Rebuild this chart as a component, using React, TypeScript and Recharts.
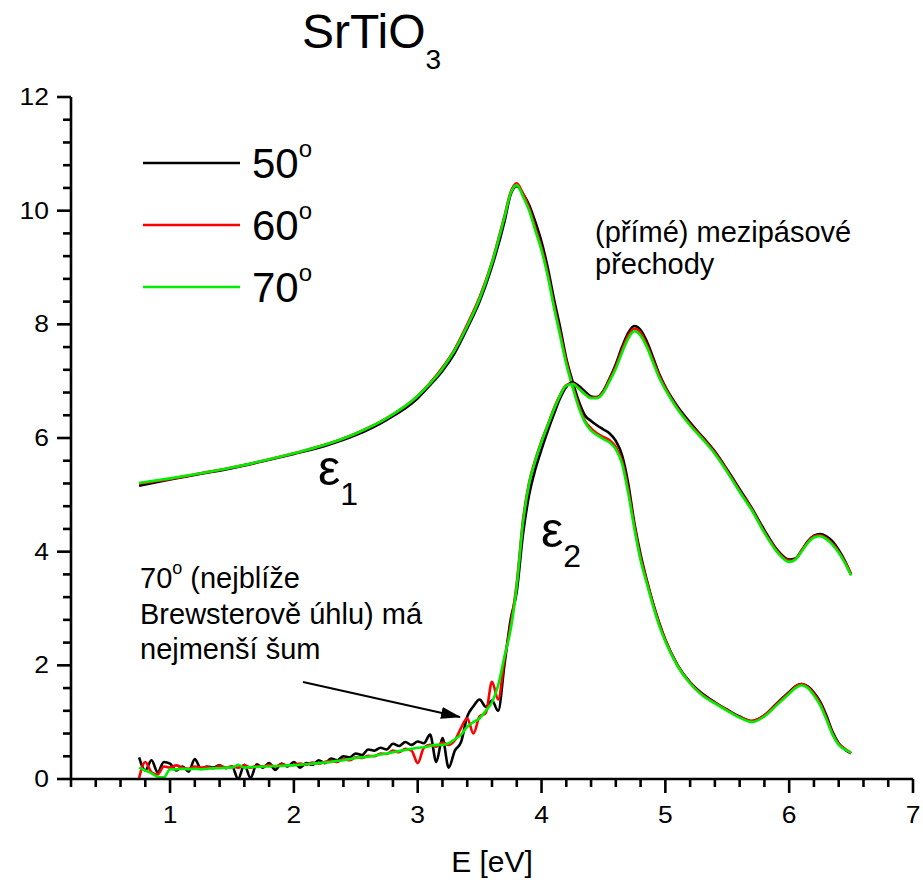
import { LineChart, Line, XAxis, YAxis } from "recharts";

const FONT = "'Liberation Sans', Arial, Helvetica, sans-serif";

// angle of incidence for each measurement
const angles = ["50", "60", "70"];
const colors = ["#000000", "#ff0000", "#00ee00"];

// eps1, all angles on one energy grid [eV]
const eps1E = [
  0.75, 1.0, 1.25, 1.5, 1.75, 2.0, 2.25, 2.5, 2.75, 3.0, 3.1, 3.2, 3.3, 3.4, 3.5, 3.6,
  3.7, 3.75, 3.8, 3.85, 3.9, 3.95, 4.0, 4.05, 4.1, 4.15, 4.2, 4.25, 4.3, 4.35, 4.4, 4.45,
  4.5, 4.55, 4.6, 4.65, 4.7, 4.75, 4.8, 4.85, 4.9, 4.95, 5.0, 5.1, 5.2, 5.3, 5.4, 5.5,
  5.6, 5.7, 5.8, 5.9, 6.0, 6.05, 6.1, 6.15, 6.2, 6.25, 6.3, 6.35, 6.4, 6.45, 6.5,
];
const eps1_50 = [
  5.16, 5.27, 5.37, 5.47, 5.59, 5.72, 5.86, 6.05, 6.32, 6.7, 6.93, 7.18, 7.5, 7.93, 8.4, 9.02,
  9.8, 10.28, 10.43, 10.3, 10.1, 9.8, 9.45, 9.0, 8.45, 7.95, 7.4, 7.0, 6.65, 6.4, 6.3, 6.22,
  6.15, 6.08, 5.95, 5.7, 5.2, 4.5, 3.95, 3.5, 3.1, 2.75, 2.45, 2.0, 1.7, 1.5, 1.35, 1.22,
  1.1, 1.02, 1.12, 1.33, 1.53, 1.63, 1.67, 1.63, 1.52, 1.36, 1.12, 0.83, 0.63, 0.52, 0.45,
];
const eps1_60 = [
  5.2, 5.28, 5.38, 5.48, 5.6, 5.73, 5.88, 6.08, 6.35, 6.74, 6.97, 7.24, 7.57, 8.0, 8.48, 9.1,
  9.9, 10.32, 10.48, 10.3, 10.05, 9.7, 9.35, 8.9, 8.35, 7.85, 7.35, 6.93, 6.58, 6.3, 6.17, 6.08,
  6.02, 5.96, 5.84, 5.6, 5.1, 4.45, 3.9, 3.48, 3.08, 2.73, 2.44, 1.99, 1.69, 1.48, 1.34, 1.21,
  1.09, 1.02, 1.12, 1.32, 1.52, 1.62, 1.67, 1.62, 1.5, 1.33, 1.08, 0.8, 0.62, 0.53, 0.46,
];
const eps1_70 = [
  5.21, 5.29, 5.38, 5.48, 5.6, 5.73, 5.88, 6.08, 6.35, 6.74, 6.96, 7.22, 7.55, 7.97, 8.45, 9.08,
  9.88, 10.3, 10.45, 10.25, 10.0, 9.65, 9.3, 8.85, 8.3, 7.8, 7.3, 6.9, 6.54, 6.28, 6.13, 6.05,
  5.98, 5.92, 5.8, 5.55, 5.03, 4.4, 3.85, 3.44, 3.05, 2.7, 2.42, 1.98, 1.68, 1.47, 1.33, 1.2,
  1.08, 1.0, 1.1, 1.3, 1.5, 1.6, 1.65, 1.6, 1.47, 1.3, 1.05, 0.78, 0.6, 0.52, 0.46,
];

// eps2 below the gap (noisy part)
const eps2LowE = [
  0.75, 0.8, 0.85, 0.9, 0.95, 1.0, 1.05, 1.1, 1.15, 1.2, 1.25, 1.3, 1.35, 1.4, 1.45, 1.5,
  1.55, 1.6, 1.65, 1.7, 1.75, 1.8, 1.85, 1.9, 1.95, 2.0, 2.05, 2.1, 2.15, 2.2, 2.25, 2.3,
  2.35, 2.4, 2.45, 2.5, 2.55, 2.6, 2.65, 2.7, 2.75, 2.8, 2.85, 2.9, 2.95, 3.0, 3.05, 3.1,
  3.15, 3.2, 3.25, 3.3, 3.35, 3.4, 3.45, 3.5, 3.55, 3.6, 3.65, 3.7,
];
const eps2Low50 = [
  0.38, 0.15, 0.33, 0.12, 0.3, 0.27, 0.15, 0.22, 0.13, 0.35, 0.18, 0.22, 0.2, 0.24, 0.19, 0.22,
  0.0, 0.25, 0.02, 0.26, 0.2, 0.28, 0.16, 0.27, 0.22, 0.3, 0.2, 0.28, 0.25, 0.33, 0.28, 0.36,
  0.33, 0.4, 0.38, 0.45, 0.42, 0.52, 0.5, 0.55, 0.52, 0.62, 0.58, 0.65, 0.6, 0.66, 0.63, 0.78,
  0.3, 0.72, 0.2, 0.5, 0.65, 1.1, 1.28, 1.4, 1.27, 1.38, 1.2, 2.0,
];
const eps2Low60 = [
  0.02, 0.3, 0.12, 0.08, 0.22, 0.2, 0.24, 0.2, 0.18, 0.22, 0.2, 0.21, 0.19, 0.23, 0.2, 0.22,
  0.2, 0.24, 0.2, 0.23, 0.22, 0.25, 0.22, 0.26, 0.24, 0.25, 0.27, 0.25, 0.29, 0.27, 0.3, 0.32,
  0.3, 0.35, 0.33, 0.38, 0.37, 0.41, 0.4, 0.45, 0.44, 0.5, 0.47, 0.53, 0.5, 0.28, 0.55, 0.6,
  0.57, 0.64, 0.6, 0.68, 0.9, 1.07, 0.8, 1.1, 1.16, 1.71, 1.4, 2.1,
];
const eps2Low70 = [
  0.2, 0.15, 0.1, 0.04, 0.03, 0.17, 0.17, 0.18, 0.17, 0.18, 0.17, 0.18, 0.19, 0.19, 0.2, 0.2,
  0.25, 0.2, 0.21, 0.21, 0.22, 0.22, 0.23, 0.23, 0.24, 0.24, 0.25, 0.26, 0.27, 0.28, 0.29, 0.3,
  0.32, 0.33, 0.35, 0.37, 0.38, 0.39, 0.41, 0.43, 0.45, 0.47, 0.49, 0.51, 0.53, 0.55, 0.56, 0.58,
  0.6, 0.6, 0.63, 0.7, 0.78, 0.92, 1.0, 1.07, 1.2, 1.35, 1.65, 2.15,
];

// eps2 above the gap
const eps2HighE = [
  3.75, 3.8, 3.85, 3.9, 3.95, 4.0, 4.05, 4.1, 4.15, 4.2, 4.25, 4.3, 4.35, 4.4, 4.45, 4.5,
  4.55, 4.6, 4.65, 4.7, 4.75, 4.8, 4.85, 4.9, 4.95, 5.0, 5.1, 5.2, 5.3, 5.4, 5.5, 5.6,
  5.7, 5.8, 5.9, 6.0, 6.05, 6.1, 6.15, 6.2, 6.25, 6.3, 6.35, 6.4, 6.45, 6.5,
];
const eps2High50 = [
  2.8, 3.3, 4.3, 5.0, 5.45, 5.8, 6.12, 6.42, 6.7, 6.9, 6.98, 6.92, 6.82, 6.73, 6.72, 6.83,
  7.05, 7.3, 7.6, 7.85, 7.97, 7.9, 7.7, 7.42, 7.13, 6.9, 6.55, 6.27, 6.02, 5.76, 5.44, 5.1,
  4.76, 4.38, 4.04, 3.86, 3.88, 4.02, 4.18, 4.28, 4.31, 4.27, 4.18, 4.03, 3.84, 3.6,
];
const eps2High60 = [
  2.7, 3.45, 4.55, 5.22, 5.62, 5.95, 6.23, 6.52, 6.76, 6.93, 6.96, 6.88, 6.78, 6.71, 6.72, 6.82,
  7.03, 7.26, 7.55, 7.8, 7.92, 7.85, 7.64, 7.37, 7.1, 6.88, 6.52, 6.24, 6.0, 5.74, 5.42, 5.07,
  4.74, 4.35, 4.02, 3.84, 3.87, 4.02, 4.17, 4.27, 4.29, 4.24, 4.14, 4.0, 3.82, 3.6,
];
const eps2High70 = [
  2.62, 3.4, 4.5, 5.2, 5.6, 5.93, 6.22, 6.5, 6.75, 6.92, 6.95, 6.87, 6.77, 6.7, 6.7, 6.8,
  7.0, 7.22, 7.5, 7.75, 7.88, 7.8, 7.6, 7.33, 7.06, 6.85, 6.5, 6.22, 5.98, 5.72, 5.4, 5.05,
  4.72, 4.33, 4.0, 3.82, 3.86, 4.0, 4.15, 4.25, 4.27, 4.22, 4.12, 3.98, 3.8, 3.58,
];

const xMajorTicks = [1, 2, 3, 4, 5, 6, 7];
const yMajorTicks = [0, 2, 4, 6, 8, 10, 12];

// minor ticks every 0.2 eV and every 0.4 on y
const xTicks: number[] = [];
for (let i = 1; i <= 35; i++) xTicks.push(Math.round(i * 2) / 10);
const yTicks: number[] = [];
for (let i = 0; i <= 30; i++) yTicks.push(Math.round(i * 4) / 10);

const toPoints = (xs: number[], ys: number[]) => xs.map((e, i) => ({ e, v: ys[i] }));

const eps1Sets = [eps1_50, eps1_60, eps1_70];
const eps2Sets = [
  [eps2Low50, eps2High50],
  [eps2Low60, eps2High60],
  [eps2Low70, eps2High70],
];
const eps2E = [...eps2LowE, ...eps2HighE];

const isMajor = (v: number, majors: number[]) => majors.some((m) => Math.abs(m - v) < 1e-6);

const AX = 2.6;
const TICK_FONT = 23;
// tick numbers in the original are drawn a bit wide
const TICK_STRETCH = 1.15;

function BottomTick(props: any) {
  const { x, y, payload } = props;
  const major = isMajor(payload.value, xMajorTicks);
  return (
    <g>
      <line x1={x} x2={x} y1={y} y2={y + (major ? 14 : 8)} stroke="#000" strokeWidth={AX} />
      {major && (
        <text
          transform={`translate(${x},${y + 44}) scale(${TICK_STRETCH},1)`}
          textAnchor="middle"
          fontSize={TICK_FONT}
          fontFamily={FONT}
          fill="#000"
        >
          {payload.value}
        </text>
      )}
    </g>
  );
}

function TopTick(props: any) {
  const { x, y, payload } = props;
  const major = isMajor(payload.value, xMajorTicks);
  return <line x1={x} x2={x} y1={y} y2={y + (major ? 14 : 8)} stroke="#000" strokeWidth={AX} />;
}

function LeftTick(props: any) {
  const { x, y, payload } = props;
  const major = isMajor(payload.value, yMajorTicks);
  return (
    <g>
      <line x1={x} x2={x - (major ? 14 : 8)} y1={y} y2={y} stroke="#000" strokeWidth={AX} />
      {major && (
        <text
          transform={`translate(${x - 22},${y + 8}) scale(${TICK_STRETCH},1)`}
          textAnchor="end"
          fontSize={TICK_FONT}
          fontFamily={FONT}
          fill="#000"
        >
          {payload.value}
        </text>
      )}
    </g>
  );
}

function RightTick(props: any) {
  const { x, y, payload } = props;
  const major = isMajor(payload.value, yMajorTicks);
  return <line x1={x} x2={x - (major ? 14 : 8)} y1={y} y2={y} stroke="#000" strokeWidth={AX} />;
}

export default function App() {
  const axisLine = { stroke: "#000", strokeWidth: AX };
  return (
    <div style={{ position: "absolute", left: 0, top: 0, width: 923, height: 880, background: "#fff" }}>
      <LineChart width={923} height={880} margin={{ top: 97, right: 10, left: 0, bottom: 0 }}>
        <XAxis
          type="number"
          dataKey="e"
          domain={[0.2, 7]}
          ticks={xTicks}
          interval={0}
          allowDataOverflow
          height={101}
          tickSize={0}
          tickMargin={0}
          tickLine={false}
          axisLine={axisLine}
          tick={(p: any) => <BottomTick {...p} />}
        />
        <XAxis
          xAxisId="top"
          orientation="top"
          type="number"
          dataKey="e"
          domain={[0.2, 7]}
          ticks={xTicks}
          interval={0}
          allowDataOverflow
          height={0}
          tickSize={0}
          tickMargin={0}
          tickLine={false}
          axisLine={axisLine}
          tick={(p: any) => <TopTick {...p} />}
        />
        <YAxis
          type="number"
          domain={[0, 12]}
          ticks={yTicks}
          interval={0}
          allowDataOverflow
          width={71}
          tickSize={0}
          tickMargin={0}
          tickLine={false}
          axisLine={axisLine}
          tick={(p: any) => <LeftTick {...p} />}
        />
        <YAxis
          yAxisId="right"
          orientation="right"
          type="number"
          domain={[0, 12]}
          ticks={yTicks}
          interval={0}
          allowDataOverflow
          width={0}
          tickSize={0}
          tickMargin={0}
          tickLine={false}
          axisLine={axisLine}
          tick={(p: any) => <RightTick {...p} />}
        />
        {angles.map((a, i) => (
          <Line
            key={"e1-" + a}
            data={toPoints(eps1E, eps1Sets[i])}
            dataKey="v"
            type="monotone"
            stroke={colors[i]}
            strokeWidth={2.6}
            dot={false}
            isAnimationActive={false}
          />
        ))}
        {angles.map((a, i) => (
          <Line
            key={"e2-" + a}
            data={toPoints(eps2E, [...eps2Sets[i][0], ...eps2Sets[i][1]])}
            dataKey="v"
            type="monotone"
            stroke={colors[i]}
            strokeWidth={2.6}
            dot={false}
            isAnimationActive={false}
          />
        ))}
      </LineChart>

      <svg
        width={923}
        height={880}
        style={{ position: "absolute", left: 0, top: 0, pointerEvents: "none" }}
        fontFamily={FONT}
      >
        <text x={302} y={48} fontSize={48} fill="#000">
          SrTiO<tspan fontSize={28} dy={21}>3</tspan>
        </text>

        {angles.map((a, i) => (
          <g key={"leg-" + a}>
            <line x1={143} x2={240} y1={163 + i * 62} y2={163 + i * 62} stroke={colors[i]} strokeWidth={2.6} />
            <text x={252} y={178 + i * 62} fontSize={42} fill="#000">
              {a}
              <tspan fontSize={24} dy={-21}>o</tspan>
            </text>
          </g>
        ))}

        <text x={318} y={485} fontSize={50} fill="#000">
          ε<tspan fontSize={32} dy={20}>1</tspan>
        </text>
        <text x={541} y={547} fontSize={50} fill="#000">
          ε<tspan fontSize={32} dy={20}>2</tspan>
        </text>

        <text x={595} y={242} fontSize={29} fill="#000">(přímé) mezipásové</text>
        <text x={595} y={274} fontSize={29} fill="#000">přechody</text>

        <text x={140} y={588} fontSize={29} fill="#000">
          70<tspan fontSize={18} dy={-14}>o</tspan>
          <tspan dy={14}> (nejblíže</tspan>
        </text>
        <text x={140} y={624} fontSize={29} fill="#000">Brewsterově úhlu) má</text>
        <text x={140} y={659} fontSize={29} fill="#000">nejmenší šum</text>

        <defs>
          <marker id="arrow" markerWidth="20" markerHeight="12" refX="19" refY="6" orient="auto" markerUnits="userSpaceOnUse">
            <path d="M0,0 L20,6 L0,12 Z" fill="#000" />
          </marker>
        </defs>
        <line x1={303} y1={682} x2={460} y2={717} stroke="#000" strokeWidth={1.8} markerEnd="url(#arrow)" />

        <text x={492} y={872} fontSize={30} textAnchor="middle" fill="#000">E [eV]</text>
      </svg>
    </div>
  );
}
